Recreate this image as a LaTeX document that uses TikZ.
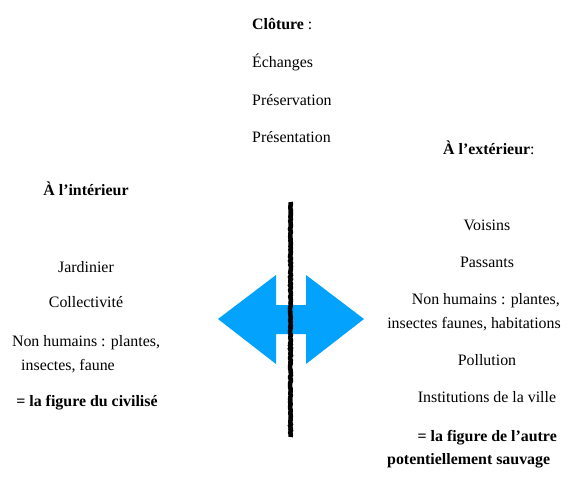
\documentclass[tikz,border=0pt]{standalone}
\usepackage{fontspec}
\setmainfont{Liberation Serif}
\usepackage{tikz}
\usetikzlibrary{positioning,calc,decorations.pathmorphing}
\definecolor{arrowblue}{RGB}{3,162,253}
\newcommand{\itemfont}{\fontsize{15.9}{19}\selectfont}

\begin{document}
\begin{tikzpicture}[x=1pt,y=-1pt,
    item/.style={font=\itemfont,inner sep=0pt,anchor=base},
    itemw/.style={item,anchor=base west},
    iteme/.style={item,anchor=base east},
    chalk/.style={line width=4.6pt,black,decorate,
      decoration={random steps,segment length=1.6pt,amplitude=0.45pt}}]
  \useasboundingbox (0,0) rectangle (581,491);

  % cloture (top)
  \node[itemw] (clot) at (252,29) {\textbf{Clôture} :};
  \foreach \name/\txt/\y in {ech/Échanges/67, pres/Préservation/105,
                             prest/Présentation/142}
    \node[itemw] (\name) at (252,\y) {\txt};

  % inside (left)
  \node[item] (int) at (86,195) {\textbf{À l’intérieur}};
  \foreach \name/\txt/\y in {jard/Jardinier/272, coll/Collectivité/307}
    \node[item] (\name) at (86,\y) {\txt};
  \node[item] (nhl) at (86,346) {Non humains : plantes,};
  \node[itemw] (nhlb) at (21,370) {insectes, faune};
  \node[item] (civ) at (87,406) {\textbf{= la figure du civilisé}};

  % outside (right)
  \node[itemw] (ext) at (443,154) {\textbf{À l’extérieur}:};
  \foreach \name/\txt/\y in {vois/Voisins/230, pass/Passants/267,
                             poll/Pollution/365}
    \node[item] (\name) at (487,\y) {\txt};
  \node[iteme] (nhr) at (560,304) {Non humains : plantes,};
  \node[iteme] (nhrb) at (561,328) {insectes faunes, habitations};
  \node[item] (inst) at (487,402) {Institutions de la ville};
  \node[iteme] (aut) at (557,441) {\textbf{= la figure de l’autre}};
  \node[itemw] (sauv) at (387,464) {\textbf{potentiellement sauvage}};

  % double arrow
  \fill[arrowblue] (218,319) -- (276,275) -- (276,305) -- (306,305)
    -- (306,275) -- (364,319) -- (306,364) -- (306,334) -- (276,334)
    -- (276,364) -- cycle;

  % fence
  \coordinate (ftop) at (290.5,202);
  \coordinate (fbot) at (290.5,437);
  \draw[chalk] (ftop) -- (fbot);
\end{tikzpicture}
\end{document}
